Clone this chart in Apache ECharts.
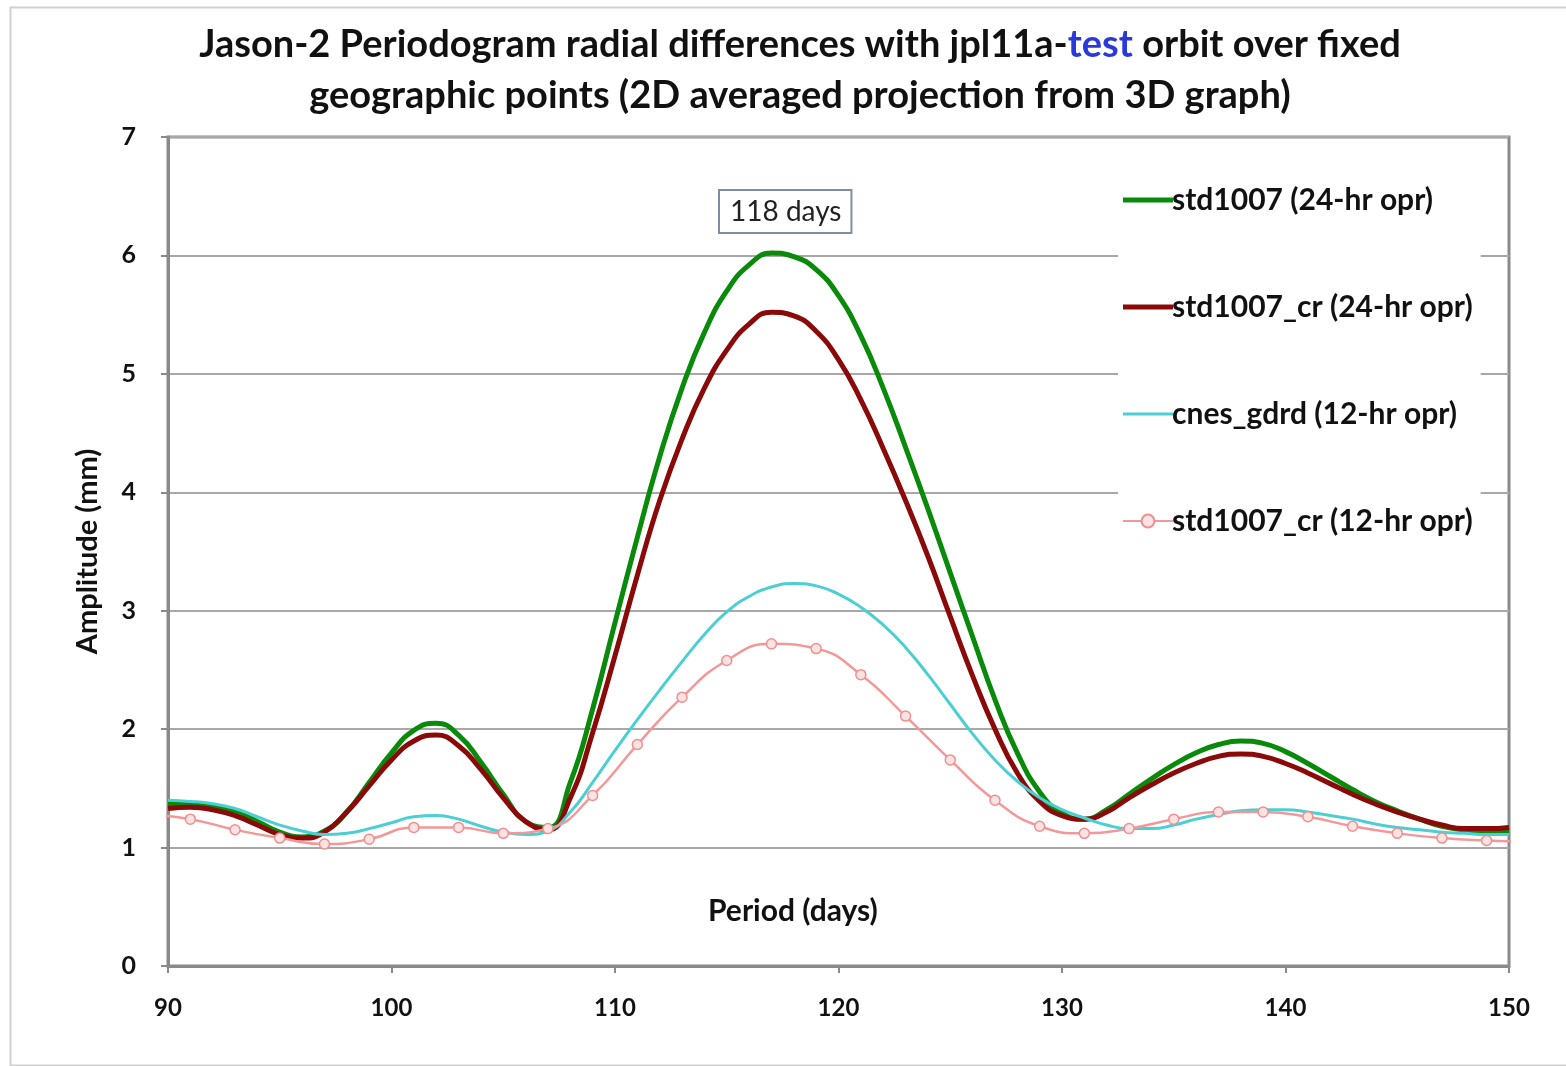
<!DOCTYPE html>
<html>
<head>
<meta charset="utf-8">
<script src="https://cdn.jsdelivr.net/npm/echarts@6/dist/echarts.min.js"></script>
<style>
html,body{margin:0;padding:0;background:#fff;}
#main{width:1566px;height:1066px;}
</style>
</head>
<body>
<div id="main"></div>
<script>
// period (days) for the three solid curves
var days = [90,91,92,93,94,95,96,97,98,99,100,101,102,103,104,105,106,107,108,109,110,
  111,112,113,114,115,116,117,118,119,120,121,122,123,124,125,126,127,128,129,130,
  131,132,133,134,135,136,137,138,139,140,141,142,143,144,145,146,147,148,149,150];
// std1007 (24-hr opr)
var std24 = [1.37,1.37,1.35,1.30,1.22,1.13,1.09,1.14,1.30,1.55,1.80,1.99,2.05,1.95,1.72,1.45,1.22,1.17,1.55,2.17,2.90,
  3.62,4.30,4.88,5.35,5.70,5.92,6.02,5.99,5.88,5.66,5.32,4.88,4.38,3.86,3.32,2.78,2.25,1.80,1.47,1.29,
  1.24,1.32,1.45,1.58,1.70,1.80,1.87,1.90,1.88,1.81,1.71,1.60,1.49,1.39,1.31,1.24,1.18,1.15,1.13,1.13];
// std1007_cr (24-hr opr)
var cr24 = [1.33,1.34,1.32,1.27,1.19,1.11,1.08,1.13,1.30,1.52,1.74,1.90,1.95,1.86,1.66,1.42,1.22,1.15,1.42,1.97,2.62,
  3.30,3.93,4.45,4.88,5.20,5.42,5.52,5.49,5.36,5.12,4.78,4.37,3.93,3.46,2.95,2.45,2.00,1.63,1.39,1.27,
  1.24,1.30,1.42,1.53,1.63,1.71,1.77,1.79,1.77,1.71,1.63,1.54,1.45,1.37,1.30,1.24,1.19,1.16,1.16,1.17];
// cnes_gdrd (12-hr opr)
var cnes12 = [1.40,1.39,1.37,1.33,1.26,1.19,1.14,1.11,1.12,1.16,1.21,1.26,1.27,1.24,1.18,1.13,1.11,1.14,1.30,1.55,1.82,
  2.08,2.33,2.57,2.80,2.99,3.12,3.20,3.23,3.21,3.14,3.03,2.88,2.69,2.46,2.21,1.96,1.74,1.56,1.42,1.32,
  1.25,1.19,1.16,1.16,1.19,1.24,1.28,1.31,1.32,1.32,1.30,1.27,1.24,1.20,1.17,1.15,1.13,1.12,1.11,1.11];
// std1007_cr (12-hr opr), sampled every 2 days
var crDays = [89,91,93,95,97,99,101,103,105,107,109,111,113,115,117,119,121,123,125,127,129,131,133,135,137,139,141,143,145,147,149,151];
var cr12 = [1.28,1.24,1.15,1.08,1.03,1.07,1.17,1.17,1.12,1.16,1.44,1.87,2.27,2.58,2.72,2.68,2.46,2.11,1.74,1.40,1.18,1.12,1.16,1.24,1.30,1.30,1.26,1.18,1.12,1.08,1.06,1.05];

var seriesNames = ['std1007 (24-hr opr)','std1007_cr (24-hr opr)','cnes_gdrd (12-hr opr)','std1007_cr (12-hr opr)'];
var xTicks = [90,100,110,120,130,140,150];
var yTicks = [0,1,2,3,4,5,6,7];

function pairs(xs, ys){
  var out = [];
  for (var i = 0; i < xs.length; i++) out.push([xs[i], ys[i]]);
  return out;
}

// plain line legend icons (tiny corner points keep the icon box 50x16)
var thickIcon = 'path://M0,0L0.05,0L0,0.05Z M0,5.5L50,5.5L50,10.5L0,10.5Z M50,16L49.95,16L50,15.95Z';
var thinIcon = 'path://M0,0L0.05,0L0,0.05Z M0,6.5L50,6.5L50,9.5L0,9.5Z M50,16L49.95,16L50,15.95Z';

var FONT = 'Lato';
var chart = echarts.init(document.getElementById('main'));
var option = {
  backgroundColor: '#fff',
  animation: false,
  title: {
    text: 'Jason-2 Periodogram radial differences with jpl11a-{b|test} orbit over fixed\ngeographic points (2D averaged projection from 3D graph)',
    left: 795, top: 14, textAlign: 'center',
    textStyle: {
      fontFamily: FONT, fontWeight: 'bold', fontSize: 38, color: '#111', lineHeight: 51,
      rich: { b: { fontFamily: FONT, fontWeight: 'bold', fontSize: 38, color: '#2a3ad8', lineHeight: 51 } }
    }
  },
  legend: {
    orient: 'vertical',
    left: 1118, top: 179,
    backgroundColor: '#fff',
    padding: [6, 8, 6, 4],
    itemWidth: 50, itemHeight: 16,
    itemGap: 77,
    data: [
      { name: seriesNames[0], icon: thickIcon },
      { name: seriesNames[1], icon: thickIcon },
      { name: seriesNames[2], icon: thinIcon },
      { name: seriesNames[3] }
    ],
    textStyle: { fontFamily: FONT, fontWeight: 'bold', fontSize: 30, color: '#111', padding: [0,0,0,-6] }
  },
  grid: { left: 168, top: 137, right: 57, bottom: 100, show: true, borderColor: '#8a8a8a', borderWidth: 3 },
  xAxis: {
    type: 'value', min: 90, max: 150, interval: 10,
    axisLine: { lineStyle: { color: '#8a8a8a', width: 3 } },
    axisTick: { show: true, length: 7, lineStyle: { color: '#8a8a8a', width: 2 } },
    splitLine: { show: false },
    axisLabel: { margin: 30, fontFamily: FONT, fontWeight: 'bold', fontSize: 24, color: '#111',
      formatter: function(v){ return xTicks.indexOf(v) >= 0 ? String(v) : ''; } }
  },
  yAxis: {
    type: 'value', min: 0, max: 7, interval: 1,
    name: 'Amplitude (mm)', nameLocation: 'middle', nameGap: 66,
    nameTextStyle: { fontFamily: FONT, fontWeight: 'bold', fontSize: 29, color: '#111' },
    axisLine: { show: true, lineStyle: { color: '#8a8a8a', width: 3 } },
    axisTick: { show: true, length: 7, lineStyle: { color: '#8a8a8a', width: 2 } },
    splitLine: { show: true, lineStyle: { color: '#a8a8a8', width: 2 } },
    axisLabel: { margin: 32, fontFamily: FONT, fontWeight: 'bold', fontSize: 25, color: '#111',
      formatter: function(v){ return yTicks.indexOf(v) >= 0 ? String(v) : ''; } }
  },
  graphic: [
    { type: 'rect', left: 8, top: 5, silent: true, z: -10,
      shape: { width: 1570, height: 1058 }, style: { fill: 'none', stroke: '#d0d0d0', lineWidth: 2 } },
    { type: 'text', left: 718, top: 189, z: 100,
      style: { text: '118 days', font: '28px Lato', fill: '#222', backgroundColor: '#fff',
        borderColor: '#7f8ea8', borderWidth: 2, padding: [7, 9, 6, 10] } },
    { type: 'text', left: 708, top: 896, z: 100,
      style: { text: 'Period (days)', font: 'bold 30px Lato', fill: '#111' } }
  ],
  series: [
    { name: seriesNames[0], type: 'line', data: pairs(days, std24), smooth: true, showSymbol: false, symbol: 'none',
      itemStyle: { color: '#0a8a0a' }, lineStyle: { color: '#0a8a0a', width: 5 } },
    { name: seriesNames[1], type: 'line', data: pairs(days, cr24), smooth: true, showSymbol: false, symbol: 'none',
      itemStyle: { color: '#8a0a0a' }, lineStyle: { color: '#8a0a0a', width: 5 } },
    { name: seriesNames[2], type: 'line', data: pairs(days, cnes12), smooth: true, showSymbol: false, symbol: 'none',
      itemStyle: { color: '#4ccfd2' }, lineStyle: { color: '#4ccfd2', width: 3 } },
    { name: seriesNames[3], type: 'line', data: pairs(crDays, cr12), smooth: true, clip: true,
      symbol: 'circle', symbolSize: 10,
      itemStyle: { color: '#fbe3e3', borderColor: '#f08f90', borderWidth: 1.5 },
      lineStyle: { color: '#f29899', width: 2.5 } }
  ]
};
chart.setOption(option);
</script>
</body>
</html>
